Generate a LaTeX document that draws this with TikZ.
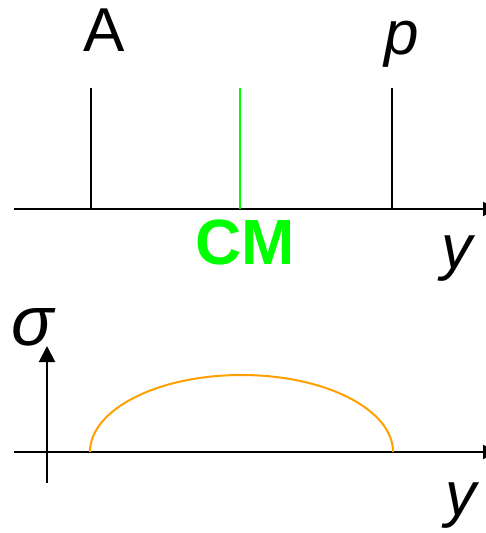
\documentclass[tikz,border=0pt]{standalone}
\usepackage{fontspec}
\setmainfont{Liberation Sans}
\usetikzlibrary{arrows.meta}
\definecolor{cmgreen}{RGB}{0,255,0}
\definecolor{curveorange}{RGB}{255,160,0}
\begin{document}
\begin{tikzpicture}[x=1pt,y=-1pt,
  axis/.style={line width=2pt,black},
  tick/.style={line width=1.5pt,black},
  lbl/.style={inner sep=0pt,font=\fontsize{62}{62}\selectfont},
  rtip/.style={-{Triangle[length=14pt,width=14pt]}}]
\useasboundingbox (0,0) rectangle (486,533);
\clip (0,0) rectangle (486,533);
% top panel
\coordinate (ax1s) at (14,209);
\coordinate (ax1e) at (497,209);
\draw[axis,rtip] (ax1s) -- (ax1e);
\coordinate (Atop) at (91,88);
\coordinate (Abot) at (91,209);
\coordinate (CMtop) at (240,88);
\coordinate (CMbot) at (240,209);
\coordinate (ptop) at (392,88);
\coordinate (pbot) at (392,209);
\draw[tick] (Atop) -- (Abot);
\draw[line width=1.5pt,cmgreen] (CMtop) -- (CMbot);
\draw[tick] (ptop) -- (pbot);
\node[lbl] (A) at (104,30) {A};
\node[lbl] (p) at (402,44) {\itshape p};
\node[lbl,text=cmgreen,font=\fontsize{64}{64}\selectfont\bfseries] (CM) at (245,242) {CM};
\node[lbl] (y1) at (457,259) {\itshape y};
% bottom panel
\coordinate (ax2s) at (14,452);
\coordinate (ax2e) at (497,452);
\draw[axis,rtip] (ax2s) -- (ax2e);
\coordinate (vs) at (47,483);
\coordinate (ve) at (47,346);
\draw[axis,-{Triangle[length=16pt,width=16pt]}] (vs) -- (ve);
\node[lbl,font=\fontsize{70}{70}\selectfont] (sigma) at (33,327) {\itshape σ};
\node[lbl] (y2) at (461,506) {\itshape y};
\coordinate (cl) at (90,452);
\draw[line width=2pt,curveorange] (cl) arc[start angle=180,end angle=0,x radius=151.5,y radius=-77];
\end{tikzpicture}
\end{document}
